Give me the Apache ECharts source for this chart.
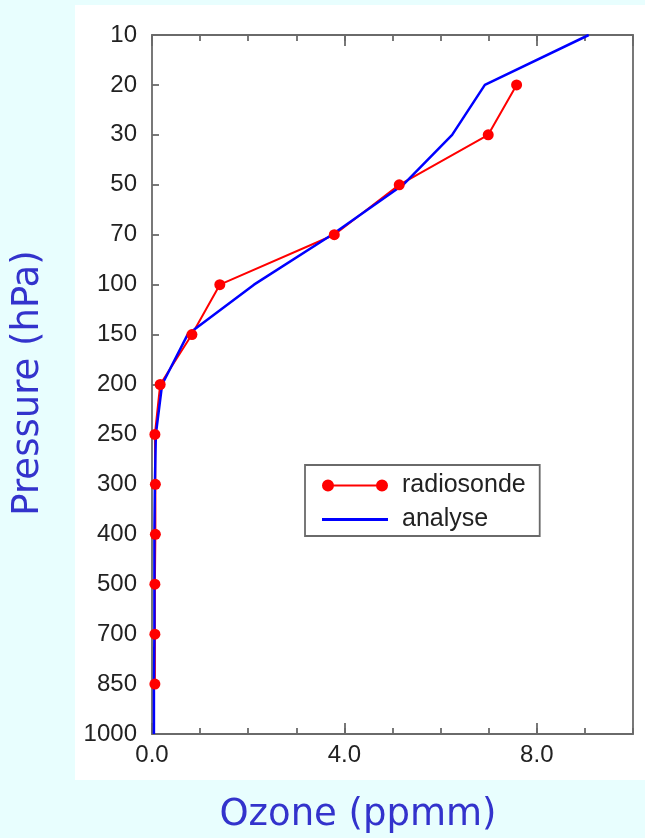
<!DOCTYPE html>
<html><head><meta charset="utf-8">
<script src="https://cdn.jsdelivr.net/npm/echarts@6/dist/echarts.min.js"></script>
<style>html,body{margin:0;padding:0;background:#e8fefe;} #c{width:645px;height:838px;}</style>
</head><body><div id="c"></div>
<script>
const pressureLevels = ['10','20','30','50','70','100','150','200','250','300','400','500','700','850','1000'];
const radiosondeLevels = ['20','30','50','70','100','150','200','250','300','400','500','700','850'];
const radiosondeValues = [7.58, 6.99, 5.14, 3.79, 1.41, 0.83, 0.17, 0.06, 0.07, 0.07, 0.06, 0.06, 0.06];
const analyseLevels = pressureLevels;
const analyseValues = [9.08, 6.92, 6.24, 5.22, 3.74, 2.12, 0.74, 0.21, 0.08, 0.06, 0.05, 0.05, 0.05, 0.04, 0.04];
const xMin = 0, xMax = 10, xMajor = 4, xMinor = 1;

const axisColor = '#6a6a6a';
const font = 'Liberation Sans, Arial, sans-serif';
const lineStyle = { color: axisColor, width: 1.8 };

function xAxisDef(pos, interval, tickLen, withLabels, withLine) {
  return {
    type: 'value', position: pos, min: xMin, max: xMax, interval: interval,
    axisLine: { show: withLine, onZero: false, lineStyle: lineStyle },
    axisTick: { show: true, inside: true, length: tickLen, lineStyle: lineStyle },
    axisLabel: withLabels ? { show: true, margin: 9, fontSize: 24, color: '#222', fontFamily: font,
      showMaxLabel: false, formatter: v => v.toFixed(1) } : { show: false },
    splitLine: { show: false }
  };
}

const chart = echarts.init(document.getElementById('c'), null, { renderer: 'canvas' });
chart.setOption({
  animation: false,
  backgroundColor: '#e8fefe',
  graphic: [
    { type: 'rect', z: -100, silent: true, shape: { x: 75, y: 5, width: 570, height: 775 }, style: { fill: '#ffffff' } },
    { type: 'text', silent: true, x: 358, y: 815, style: { text: 'Ozone (ppmm)', fill: '#3333cc',
      font: '37px "DejaVu Sans", Verdana, sans-serif', align: 'center', verticalAlign: 'middle' } },
    { type: 'text', silent: true, x: 28, y: 383, rotation: Math.PI / 2, style: { text: 'Pressure (hPa)', fill: '#3333cc',
      font: '37px "DejaVu Sans", Verdana, sans-serif', align: 'center', verticalAlign: 'middle' } }
  ],
  grid: { left: 152, right: 12, top: 35, bottom: 104, containLabel: false },
  xAxis: [
    xAxisDef('bottom', xMajor, 11, true, true),
    xAxisDef('bottom', xMinor, 6, false, false),
    xAxisDef('top', xMajor, 11, false, true),
    xAxisDef('top', xMinor, 6, false, false)
  ],
  yAxis: [
    {
      type: 'category', data: pressureLevels, inverse: true, boundaryGap: false, position: 'left',
      axisLine: { show: true, onZero: false, lineStyle: lineStyle },
      axisTick: { show: true, inside: true, length: 7, alignWithLabel: true, lineStyle: lineStyle },
      axisLabel: { margin: 15, fontSize: 24, color: '#222', fontFamily: font, interval: 0 },
      splitLine: { show: false }
    },
    {
      type: 'category', data: pressureLevels, inverse: true, boundaryGap: false, position: 'right',
      axisLine: { show: true, onZero: false, lineStyle: lineStyle },
      axisTick: { show: false }, axisLabel: { show: false }, splitLine: { show: false }
    }
  ],
  legend: {
    orient: 'vertical', left: 305, top: 465,
    padding: [8, 14, 4, 17], itemGap: 9, itemWidth: 66, itemHeight: 12,
    backgroundColor: '#fff', borderColor: axisColor, borderWidth: 1.8,
    textStyle: { fontSize: 25, color: '#222', fontFamily: font, padding: [0, 0, 0, 9] },
    data: [
      { name: 'radiosonde', icon: 'path://M0,6A6,6,0,1,1,12,6A6,6,0,1,1,0,6ZM6,5L60,5L60,7L6,7ZM54,6A6,6,0,1,1,66,6A6,6,0,1,1,54,6Z' },
      { name: 'analyse', icon: 'path://M0,0L66,0L66,3L0,3Z' }
    ]
  },
  series: [
    {
      name: 'radiosonde', type: 'line', xAxisIndex: 0, yAxisIndex: 0,
      data: radiosondeLevels.map((lv, i) => [radiosondeValues[i], lv]),
      symbol: 'circle', symbolSize: 11, showSymbol: true, showAllSymbol: true,
      itemStyle: { color: '#ff0000' }, lineStyle: { color: '#ff0000', width: 2 }
    },
    {
      name: 'analyse', type: 'line', xAxisIndex: 0, yAxisIndex: 0,
      data: analyseLevels.map((lv, i) => [analyseValues[i], lv]),
      symbol: 'none', itemStyle: { color: '#0000ff' }, lineStyle: { color: '#0000ff', width: 2.5 }
    }
  ]
});
</script></body></html>
